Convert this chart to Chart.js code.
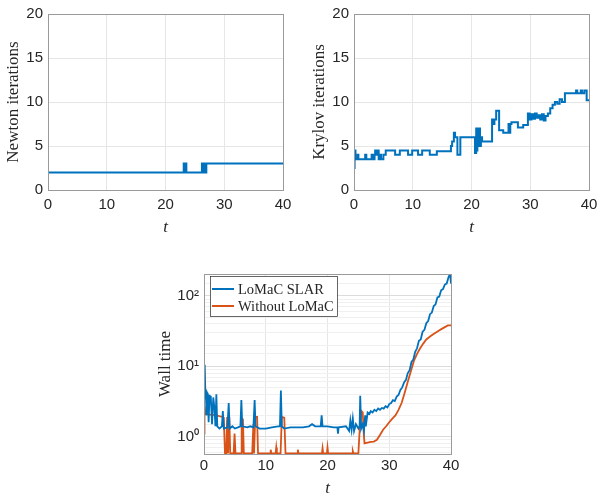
<!DOCTYPE html>
<html>
<head>
<meta charset="utf-8">
<script src="https://cdn.jsdelivr.net/npm/chart.js@4"></script>
<style>
  body { margin: 0; background: #fff; width: 604px; height: 497px; position: relative; overflow: hidden; }
  .box { position: absolute; }
</style>
</head>
<body>
<div class="box" style="left:0;top:0;width:300px;height:238px"><canvas id="newtonChart"></canvas></div>
<div class="box" style="left:302px;top:0;width:302px;height:238px"><canvas id="krylovChart"></canvas></div>
<div class="box" style="left:150px;top:260px;width:310px;height:237px"><canvas id="wallChart"></canvas></div>
<script>
// Data
const newtonT = [0, 23.1, 23.25, 23.35, 23.55, 26.2, 26.3, 26.45, 26.55, 26.7, 26.8, 26.95, 40];
const newtonIt = [2, 3, 2, 3, 2, 3, 2, 3, 2, 3, 2, 3, 3];

const krylovT = [0, 0.1, 0.25, 0.6, 0.75, 1.9, 2.1, 3.0, 3.2, 3.5, 3.6, 3.8, 4.0, 4.2, 4.4, 4.6, 5.0, 5.4, 7.0, 7.8, 9.2, 9.9, 10.9, 11.6, 12.9, 14.1, 16.5, 16.7, 17.0, 17.2, 17.6, 18.1, 20.6, 20.8, 20.9, 21.0, 21.15, 21.3, 21.45, 21.6, 21.8, 23.5, 23.7, 23.9, 24.2, 24.7, 25.4, 26.3, 26.45, 26.6, 26.8, 27.9, 28.8, 29.6, 29.9, 30.2, 30.5, 30.8, 31.1, 31.4, 31.7, 32.0, 32.3, 32.6, 33.0, 33.4, 33.8, 34.2, 34.6, 35.0, 35.4, 35.9, 37.8, 38.0, 38.6, 38.8, 39.2, 39.4, 39.6, 40];
const krylovIt = [2.5, 4.5, 3.5, 4, 3.5, 4, 3.5, 4, 3.5, 4, 4.5, 4, 4.5, 3.5, 4, 3.5, 4, 4.5, 4, 4.5, 4, 4.5, 4, 4.5, 4, 4.4, 5, 5.5, 6.5, 6, 4, 6, 4.2, 7, 4.5, 7, 5, 7, 5, 6, 5.5, 8, 7.5, 8, 9, 6.8, 6.5, 7.5, 6.5, 7.5, 7.7, 7.1, 7.4, 8.7, 8, 8.6, 8.1, 8.7, 8.2, 8.5, 8, 8.6, 7.9, 8.4, 8.7, 9.3, 9.7, 10, 9.8, 10.3, 10, 11, 11.3, 11, 11.3, 11, 11.3, 11.3, 10.2, 10.2];

const wallT = [0, 0.12, 0.22, 0.3, 0.4, 0.5, 0.6, 0.75, 0.9, 1.1, 1.3, 1.5, 1.7, 1.85, 2.0, 2.15, 2.5, 2.9, 3.05, 3.2, 3.8, 4.0, 4.15, 4.6, 5.0, 5.5, 5.9, 6.05, 6.2, 7.0, 7.5, 8.0, 8.2, 8.35, 9.0, 10.0, 11.0, 12.0, 12.3, 12.45, 12.6, 13.0, 14.0, 15.0, 16.0, 17.0, 17.5, 18.0, 18.9, 19.05, 19.2, 20.0, 21.0, 21.6, 21.7, 21.8, 23.0, 23.5, 23.7, 23.9, 24.1, 24.3, 24.6, 25.0, 25.2, 25.3, 25.45, 25.7, 25.9, 26.1, 26.2, 26.5, 26.8, 27.0, 27.3, 27.6, 27.9, 28.2, 28.5, 28.8, 29.1, 29.4, 29.7, 30.0, 30.3, 30.6, 30.9, 31.2, 31.5, 31.8, 32.1, 32.4, 32.7, 33.0, 33.3, 33.6, 33.9, 34.2, 34.5, 34.8, 35.1, 35.4, 35.7, 36.0, 36.3, 36.6, 36.9, 37.2, 37.5, 37.8, 38.1, 38.4, 38.7, 39.0, 39.3, 39.6, 39.85, 40];
const lomacSlar = [3.5, 10.5, 4.0, 4.3, 2.0, 4.2, 4.0, 1.6, 3.8, 3.7, 1.5, 3.6, 2.5, 1.4, 4.0, 1.4, 1.3, 1.4, 2.3, 1.3, 1.35, 3.0, 1.3, 1.4, 1.3, 1.35, 1.4, 3.3, 1.4, 1.35, 1.4, 1.35, 3.3, 1.4, 1.3, 1.3, 1.35, 1.4, 1.4, 4.5, 1.4, 1.3, 1.35, 1.35, 1.35, 1.4, 1.5, 1.4, 1.4, 2.0, 1.4, 1.4, 1.35, 1.35, 1.1, 1.35, 1.4, 1.2, 1.7, 1.25, 1.8, 1.2, 1.5, 1.3, 1.4, 3.8, 1.3, 1.5, 1.2, 2.0, 1.4, 2.2, 2.1, 2.3, 2.2, 2.4, 2.3, 2.5, 2.4, 2.55, 2.5, 2.7, 2.6, 2.9, 3.0, 3.3, 3.2, 3.7, 3.9, 4.6, 5.0, 5.9, 6.4, 8.0, 8.8, 11.5, 12.5, 16, 18, 23, 24, 31, 33, 41, 44, 55, 58, 72, 76, 95, 98, 120, 125, 145, 150, 185, 205, 150];

const withoutT = [0, 0.08, 0.25, 1.0, 2.0, 3.0, 3.2, 3.4, 3.6, 3.75, 3.9, 4.1, 4.25, 4.8, 4.95, 5.1, 6.0, 6.1, 6.2, 6.3, 6.45, 7.8, 8.0, 8.1, 8.3, 8.6, 8.75, 10.7, 10.8, 10.9, 11.6, 11.7, 11.8, 12.4, 12.6, 13.0, 13.2, 15.1, 15.2, 15.3, 19.1, 19.2, 19.3, 19.9, 20.0, 20.1, 24.0, 24.1, 24.2, 25.0, 25.2, 25.5, 25.7, 25.9, 26.0, 26.5, 27.0, 27.5, 28.0, 28.5, 29.0, 29.5, 30.0, 30.5, 31.0, 31.5, 32.0, 32.5, 33.0, 33.5, 34.0, 34.5, 35.0, 35.5, 36.0, 36.5, 37.0, 37.5, 38.0, 38.5, 39.0, 39.5, 40];
const withoutLomac = [1.1, 2.7, 2.1, 2.05, 2.0, 1.9, 1.85, 0.575, 0.575, 1.9, 0.575, 1.9, 0.575, 0.575, 1.1, 0.575, 0.575, 1.7, 0.6, 1.8, 0.575, 0.575, 1.5, 0.575, 1.9, 1.9, 0.575, 0.575, 0.65, 0.575, 0.575, 0.7, 0.575, 0.575, 1.9, 1.85, 0.575, 0.575, 0.65, 0.575, 0.575, 0.68, 0.575, 0.575, 0.7, 0.575, 0.575, 0.62, 0.575, 0.575, 1.2, 2.3, 2.2, 1.0, 0.8, 0.82, 0.84, 0.85, 0.9, 1.05, 1.25, 1.4, 1.6, 1.8, 2.0, 2.4, 3.0, 4.2, 6.0, 8.5, 12, 15, 18, 21, 24, 26, 28, 30, 32, 34, 36, 38, 38];

const seriesNames = ['LoMaC SLAR', 'Without LoMaC'];
const xTicks = [0, 10, 20, 30, 40];
const iterTicks = [0, 5, 10, 15, 20];

const BLUE = '#0072BD';
const ORANGE = '#D95319';
const GRID = '#e6e6e6';
const TEXT = '#262626';
const SANS = '"Liberation Sans", Arial, sans-serif';
const SERIF = '"Liberation Serif", "Times New Roman", serif';

Chart.defaults.animation = false;
Chart.defaults.responsive = true;
Chart.defaults.maintainAspectRatio = false;

const toPoints = (xs, ys) => xs.map((x, i) => ({ x: x, y: ys[i] }));

// Matlab style box round the plot area
const boxPlugin = {
  id: 'box',
  afterDraw(chart) {
    const a = chart.chartArea;
    const ctx = chart.ctx;
    ctx.save();
    ctx.strokeStyle = '#9a9a9a';
    ctx.lineWidth = 1;
    ctx.strokeRect(Math.round(a.left) + 0.5, Math.round(a.top) + 0.5,
      Math.round(a.right - a.left), Math.round(a.bottom - a.top));
    ctx.restore();
  }
};

// Legend drawn inside the axes, top-left
const insideLegend = {
  id: 'insideLegend',
  afterDraw(chart) {
    const a = chart.chartArea;
    const ctx = chart.ctx;
    const x0 = a.left + 6, y0 = a.top + 2;
    ctx.save();
    ctx.fillStyle = '#fff';
    ctx.fillRect(x0, y0, 127, 40);
    ctx.strokeStyle = '#262626';
    ctx.lineWidth = 0.7;
    ctx.strokeRect(x0 + 0.5, y0 + 0.5, 127, 40);
    ctx.font = '14.5px ' + SERIF;
    ctx.textBaseline = 'middle';
    chart.data.datasets.forEach((ds, i) => {
      const yy = y0 + 13 + i * 17;
      ctx.strokeStyle = ds.borderColor;
      ctx.lineWidth = 2;
      ctx.beginPath();
      ctx.moveTo(x0 + 2, yy);
      ctx.lineTo(x0 + 24, yy);
      ctx.stroke();
      ctx.fillStyle = TEXT;
      ctx.fillText(ds.label, x0 + 28, yy + 1);
    });
    ctx.restore();
  }
};

function xScale(height, tickPad, titleBottom) {
  return {
    type: 'linear',
    min: 0,
    max: 40,
    afterBuildTicks: s => { s.ticks = xTicks.map(v => ({ value: v })); },
    afterFit: s => { s.height = height; s.paddingLeft = 0; s.paddingRight = 0; },
    grid: { color: GRID, drawTicks: false },
    border: { display: false },
    ticks: { color: TEXT, font: { family: SANS, size: 15 }, padding: tickPad, maxRotation: 0 },
    title: { display: true, text: 't', color: TEXT, font: { family: SERIF, size: 17, style: 'italic' }, padding: { top: 0, bottom: titleBottom } }
  };
}

function iterChart(id, xs, ys, label, leftW, titlePad, rightPad) {
  new Chart(document.getElementById(id), {
    type: 'line',
    data: { datasets: [{ label: label, data: toPoints(xs, ys), borderColor: BLUE, borderWidth: 2, pointRadius: 0, stepped: true }] },
    options: {
      layout: { padding: { top: 13, right: rightPad, left: 0, bottom: 0 } },
      plugins: { legend: { display: false }, tooltip: { enabled: false } },
      scales: {
        x: xScale(48, 6, 0),
        y: {
          type: 'linear',
          min: 0,
          max: 20,
          afterBuildTicks: s => { s.ticks = iterTicks.map(v => ({ value: v })); },
          afterFit: s => { s.width = leftW; },
          grid: { color: GRID, drawTicks: false },
          border: { display: false },
          ticks: { color: TEXT, font: { family: SANS, size: 15 }, padding: 5 },
          title: { display: true, text: label, color: TEXT, font: { family: SERIF, size: 17 }, padding: { top: titlePad, bottom: 0 } }
        }
      }
    },
    plugins: [boxPlugin]
  });
}

iterChart('newtonChart', newtonT, newtonIt, 'Newton iterations', 48, 3, 17);
iterChart('krylovChart', krylovT, krylovIt, 'Krylov iterations', 52, 7, 15);

const sup = { 0: '\u2070', 1: '\u00b9', 2: '\u00b2' };

new Chart(document.getElementById('wallChart'), {
  type: 'line',
  data: {
    datasets: [
      { label: seriesNames[0], data: toPoints(wallT, lomacSlar), borderColor: BLUE, borderWidth: 1.8, pointRadius: 0, tension: 0 },
      { label: seriesNames[1], data: toPoints(withoutT, withoutLomac), borderColor: ORANGE, borderWidth: 1.8, pointRadius: 0, tension: 0 }
    ]
  },
  options: {
    layout: { padding: { top: 14, right: 9, left: 0, bottom: 0 } },
    plugins: { legend: { display: false }, tooltip: { enabled: false } },
    scales: {
      x: xScale(43, 3, -2),
      y: {
        type: 'logarithmic',
        min: 0.565,
        max: 205,
        afterFit: s => { s.width = 54; },
        grid: {
          drawTicks: false,
          color: ctx => {
            const v = ctx.tick ? ctx.tick.value : 0;
            const e = Math.log10(v);
            return Math.abs(e - Math.round(e)) < 1e-9 ? '#dcdcdc' : '#f0f0f0';
          }
        },
        border: { display: false },
        ticks: {
          color: TEXT,
          font: { family: SANS, size: 15 },
          padding: 5,
          autoSkip: false,
          callback: v => {
            const e = Math.log10(v);
            if (Math.abs(e - Math.round(e)) < 1e-9) return '10' + sup[Math.round(e)];
            return '';
          }
        },
        title: { display: true, text: 'Wall time', color: TEXT, font: { family: SERIF, size: 17 }, padding: { top: 5, bottom: 0 } }
      }
    }
  },
  plugins: [boxPlugin, insideLegend]
});
</script>
</body>
</html>
